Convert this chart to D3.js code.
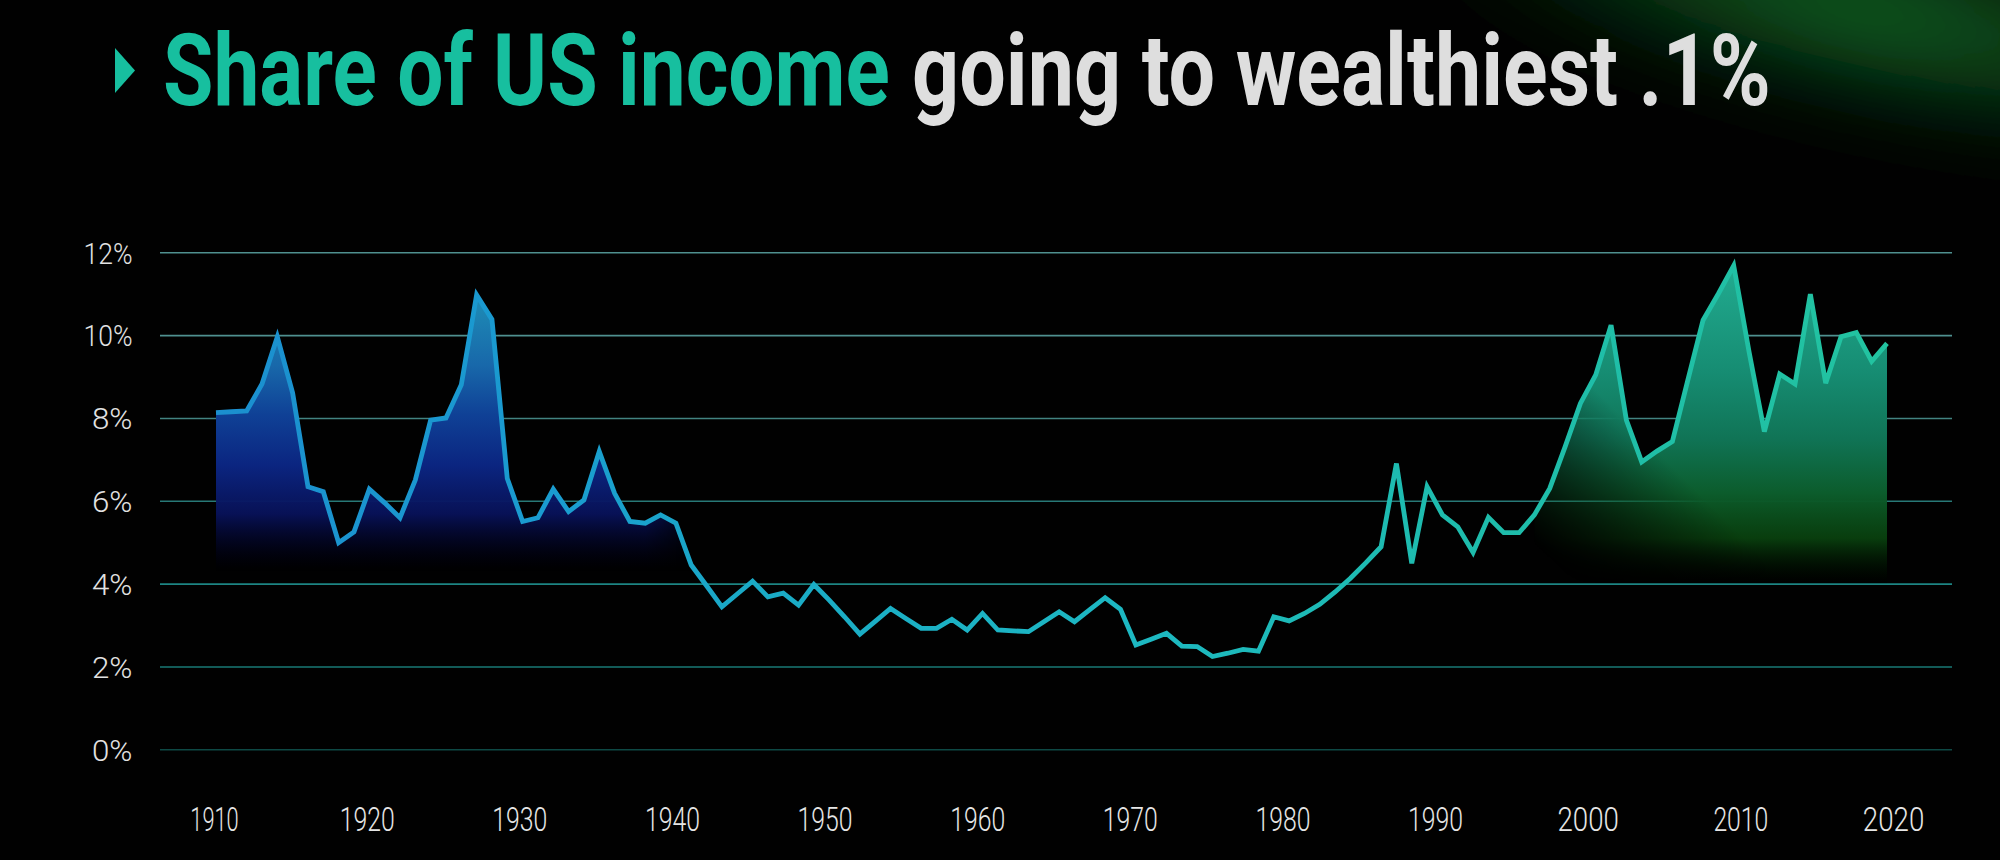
<!DOCTYPE html>
<html><head><meta charset="utf-8">
<script src="https://cdn.jsdelivr.net/npm/d3@7"></script>
<style>html,body{margin:0;padding:0;background:#000;overflow:hidden}</style>
</head><body>
<svg id="chart" width="2000" height="860"></svg>
<script>
// ---------- data ----------
const years = d3.range(1910, 2020);
const shareTop01 = [
  8.13, 8.15, 8.17, 8.82, 9.96, 8.6, 6.34, 6.22, 4.99, 5.25,
  6.28, 5.95, 5.59, 6.5, 7.95, 8.0, 8.8, 10.97, 10.38, 6.54,
  5.5, 5.59, 6.28, 5.74, 6.02, 7.19, 6.18, 5.5, 5.46, 5.66,
  5.46, 4.45, 3.95, 3.44, 3.75, 4.06, 3.68, 3.77, 3.48, 3.98,
  3.6, 3.2, 2.78, 3.09, 3.40, 3.16, 2.92, 2.92, 3.14, 2.88,
  3.28, 2.88, 2.86, 2.84, 3.08, 3.32, 3.08, 3.37, 3.66, 3.38,
  2.52, 2.66, 2.80, 2.49, 2.48, 2.24, 2.32, 2.41, 2.37, 3.20,
  3.10, 3.28, 3.5, 3.8, 4.13, 4.5, 4.89, 6.90, 4.49, 6.34,
  5.66, 5.37, 4.75, 5.60, 5.23, 5.23, 5.66, 6.3, 7.3, 8.35,
  9.04, 10.24, 7.95, 6.94, 7.2, 7.43, 8.9, 10.36, 11.0, 11.68,
  9.6, 7.67, 9.06, 8.82, 10.99, 8.84, 9.96, 10.06, 9.37, 9.80
];
const xTickYears = [1910, 1920, 1930, 1940, 1950, 1960, 1970, 1980, 1990, 2000, 2010, 2020];
const yTickValues = [0, 2, 4, 6, 8, 10, 12];
const earlyFillYears = [1910, 1941];
const lateFillYears = [1996, 2019];
const titleTeal = "Share of US income";
const titleWhite = "going to wealthiest .1%";

const data = years.map((yr, i) => ({ year: yr, v: shareTop01[i] }));

// ---------- setup ----------
const svg = d3.select("#chart");
const defs = svg.append("defs");

const x = d3.scaleLinear().domain([1910, 2019]).range([216, 1887]);
const xAxisScale = d3.scaleLinear().domain([1910, 2020]).range([214, 1893]);
const y = d3.scaleLinear().domain([0, 12]).range([749.3, 252.3]);

// squeeze a text element horizontally to a target width (condensed look)
function squeeze(sel, width, anchorX, anchorY) {
  sel.each(function(d) {
    const w = typeof width === "function" ? width(d) : width;
    const nat = this.getComputedTextLength();
    const sx = nat > 0 ? w / nat : 1;
    const ax = anchorX || 0, ay = anchorY || 0;
    d3.select(this).attr("transform", `translate(${ax},${ay}) scale(${sx},1) translate(${-ax},${-ay})`);
  });
}

svg.append("rect").attr("width", 2000).attr("height", 860).attr("fill", "#010101");

// green glow top-right
const glowF = defs.append("filter").attr("id", "glowBlur")
  .attr("x", "-60%").attr("y", "-200%").attr("width", "220%").attr("height", "500%");
glowF.append("feGaussianBlur").attr("stdDeviation", 45);
const rg = defs.append("radialGradient").attr("id", "glowGrad");
rg.append("stop").attr("offset", 0).attr("stop-color", "#127a2e").attr("stop-opacity", 1);
rg.append("stop").attr("offset", 0.6).attr("stop-color", "#0a4e1a").attr("stop-opacity", 0.65);
rg.append("stop").attr("offset", 1).attr("stop-color", "#000").attr("stop-opacity", 0);
svg.append("ellipse")
  .attr("cx", 1860).attr("cy", 8).attr("rx", 520).attr("ry", 95)
  .attr("transform", "rotate(13,1860,8)")
  .attr("fill", "url(#glowGrad)").attr("filter", "url(#glowBlur)");

// ---------- title ----------
svg.append("path")
  .attr("d", d3.line()([[115, 48], [135, 70.5], [115, 93]]) + "Z")
  .attr("fill", "#17bf9f");
const t1 = svg.append("text")
  .attr("x", 163).attr("y", 105)
  .attr("font-family", "Roboto, 'Open Sans', sans-serif").attr("font-weight", 700)
  .attr("font-size", 100).attr("fill", "#17bf9f")
  .text(titleTeal);
squeeze(t1, 727, 163, 105);
const t2 = svg.append("text")
  .attr("x", 912).attr("y", 105)
  .attr("font-family", "Roboto, 'Open Sans', sans-serif").attr("font-weight", 700)
  .attr("font-size", 100).attr("fill", "#dedede")
  .text(titleWhite);
squeeze(t2, 859, 912, 105);

// ---------- gridlines ----------
const gridStyle = {12: ["#58a09e", 0.9], 10: ["#58a09e", 0.9], 8: ["#4e9a98", 0.85],
                   6: ["#2f8e8c", 0.85], 4: ["#1f8c8a", 0.95], 2: ["#1b8682", 0.9], 0: ["#0f4d49", 0.95]};
const grid = svg.append("g").attr("transform", "translate(160,0)")
  .call(d3.axisRight(y).tickValues(yTickValues).tickSize(1952 - 160).tickFormat(""));
grid.select(".domain").remove();
grid.selectAll(".tick line")
  .attr("stroke", d => gridStyle[d][0]).attr("stroke-opacity", d => gridStyle[d][1])
  .attr("stroke-width", 1.6);

// ---------- fills ----------
function vGrad(id, y1v, y2v, stops) {
  const g = defs.append("linearGradient").attr("id", id).attr("gradientUnits", "userSpaceOnUse")
    .attr("x1", 0).attr("x2", 0).attr("y1", y(y1v)).attr("y2", y(y2v));
  stops.forEach(s => g.append("stop").attr("offset", s[0]).attr("stop-color", s[1]).attr("stop-opacity", s[2]));
}
vGrad("earlyGrad", 11.2, 4.3, [
  [0, "#1f93b8", 1], [0.28, "#1868aa", 1], [0.45, "#0f4196", 1],
  [0.63, "#0b2580", 1], [0.8, "#08125a", 0.95], [1, "#000020", 0]]);
vGrad("lateGrad", 11.8, 4.0, [
  [0, "#22ad92", 1], [0.35, "#168c72", 1], [0.55, "#107456", 1],
  [0.72, "#0c5c2c", 1], [0.86, "#0a4810", 0.85], [1, "#001800", 0]]);

// early mask: fades out horizontally
const em = defs.append("linearGradient").attr("id", "earlyMaskGrad").attr("gradientUnits", "userSpaceOnUse")
  .attr("x1", x(1938)).attr("x2", x(1942)).attr("y1", 0).attr("y2", 0);
em.append("stop").attr("offset", 0).attr("stop-color", "#fff");
em.append("stop").attr("offset", 1).attr("stop-color", "#000");
defs.append("mask").attr("id", "earlyMask").attr("maskUnits", "userSpaceOnUse")
  .attr("x", 0).attr("y", 0).attr("width", 2000).attr("height", 860)
  .append("rect").attr("width", 2000).attr("height", 860).attr("fill", "url(#earlyMaskGrad)");

// late mask: diagonal fade-in from lower-left
const lm = defs.append("linearGradient").attr("id", "lateMaskGrad").attr("gradientUnits", "userSpaceOnUse")
  .attr("x1", x(1997)).attr("y1", y(4.6)).attr("x2", x(2004)).attr("y2", y(7.2));
lm.append("stop").attr("offset", 0).attr("stop-color", "#000");
lm.append("stop").attr("offset", 1).attr("stop-color", "#fff");
defs.append("mask").attr("id", "lateMask").attr("maskUnits", "userSpaceOnUse")
  .attr("x", 0).attr("y", 0).attr("width", 2000).attr("height", 860)
  .append("rect").attr("width", 2000).attr("height", 860).attr("fill", "url(#lateMaskGrad)");

const area = d3.area().x(d => x(d.year)).y0(y(3.9)).y1(d => y(d.v));
svg.append("path")
  .datum(data.filter(d => d.year >= earlyFillYears[0] && d.year <= earlyFillYears[1]))
  .attr("d", area).attr("fill", "url(#earlyGrad)").attr("mask", "url(#earlyMask)");
svg.append("path")
  .datum(data.filter(d => d.year >= lateFillYears[0] && d.year <= lateFillYears[1]))
  .attr("d", area).attr("fill", "url(#lateGrad)").attr("mask", "url(#lateMask)");

// ---------- line ----------
const lg = defs.append("linearGradient").attr("id", "lineGrad").attr("gradientUnits", "userSpaceOnUse")
  .attr("x1", x(1910)).attr("x2", x(2019)).attr("y1", 0).attr("y2", 0);
[[0, "#1b8fcf"], [0.2, "#1a9cd0"], [0.32, "#1aaac6"], [0.55, "#1db8c2"], [0.75, "#1ebcac"], [1, "#22c3a0"]]
  .forEach(s => lg.append("stop").attr("offset", s[0]).attr("stop-color", s[1]));
svg.append("path").datum(data)
  .attr("d", d3.line().x(d => x(d.year)).y(d => y(d.v)))
  .attr("fill", "none").attr("stroke", "url(#lineGrad)")
  .attr("stroke-width", 4.8).attr("stroke-linejoin", "miter").attr("stroke-miterlimit", 4);

// ---------- axes ----------
const yAxis = svg.append("g").attr("transform", "translate(132.5,0)")
  .call(d3.axisLeft(y).tickValues(yTickValues).tickSize(0).tickPadding(0).tickFormat(d => d + "%"));
yAxis.select(".domain").remove();
yAxis.selectAll("text")
  .attr("x", 0)
  .attr("font-family", "Roboto, sans-serif").attr("font-weight", 300).attr("font-size", 30)
  .attr("fill", "#e2e2e2").attr("dy", "0.36em");
squeeze(yAxis.selectAll("text"), d => (d + "%").length === 3 ? 49 : 40.5);

const xAxis = svg.append("g").attr("transform", "translate(0,831)")
  .call(d3.axisBottom(xAxisScale).tickValues(xTickYears).tickSize(0).tickFormat(d3.format("d")));
xAxis.select(".domain").remove();
xAxis.selectAll("text")
  .attr("y", 0).attr("dy", 0)
  .attr("font-family", "Roboto, sans-serif").attr("font-weight", 300).attr("font-size", 33)
  .attr("fill", "#e6e6e6");
squeeze(xAxis.selectAll("text"), d => 61.5 - 6.5 * (String(d).split("1").length - 1));
</script>
</body></html>
